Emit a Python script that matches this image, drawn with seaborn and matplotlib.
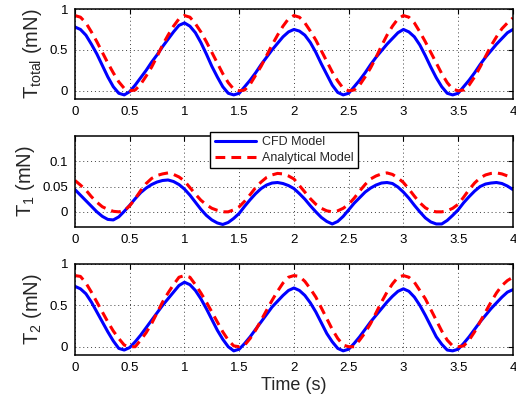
import matplotlib
matplotlib.use("Agg")
import matplotlib.pyplot as plt
from matplotlib.lines import Line2D
import seaborn as sns
import pandas as pd

# ---------------- data ----------------
time_s = [0.0, 0.05, 0.1, 0.15, 0.2, 0.25, 0.3, 0.35, 0.4, 0.45,
          0.5, 0.55, 0.6, 0.65, 0.7, 0.75, 0.8, 0.85, 0.9, 0.95,
          1.0, 1.05, 1.1, 1.15, 1.2, 1.25, 1.3, 1.35, 1.4, 1.45,
          1.5, 1.55, 1.6, 1.65, 1.7, 1.75, 1.8, 1.85, 1.9, 1.95,
          2.0, 2.05, 2.1, 2.15, 2.2, 2.25, 2.3, 2.35, 2.4, 2.45,
          2.5, 2.55, 2.6, 2.65, 2.7, 2.75, 2.8, 2.85, 2.9, 2.95,
          3.0, 3.05, 3.1, 3.15, 3.2, 3.25, 3.3, 3.35, 3.4, 3.45,
          3.5, 3.55, 3.6, 3.65, 3.7, 3.75, 3.8, 3.85, 3.9, 3.95, 4.0]

t_total_cfd = [0.78, 0.75, 0.68, 0.57, 0.45, 0.31, 0.17, 0.05, -0.03, -0.05,
               -0.01, 0.07, 0.16, 0.25, 0.35, 0.44, 0.54, 0.63, 0.72, 0.80,
               0.83, 0.79, 0.71, 0.59, 0.45, 0.30, 0.17, 0.05, -0.03, -0.05,
               -0.03, 0.05, 0.13, 0.22, 0.32, 0.41, 0.50, 0.58, 0.66, 0.72,
               0.75, 0.73, 0.68, 0.59, 0.47, 0.33, 0.20, 0.07, -0.02, -0.05,
               -0.03, 0.05, 0.13, 0.22, 0.32, 0.41, 0.49, 0.57, 0.64, 0.71,
               0.75, 0.72, 0.66, 0.56, 0.43, 0.29, 0.16, 0.05, -0.03, -0.05,
               -0.03, 0.05, 0.13, 0.22, 0.32, 0.41, 0.49, 0.57, 0.64, 0.71, 0.75]

t_total_ana = [0.92, 0.90, 0.83, 0.72, 0.60, 0.47, 0.34, 0.22, 0.11, 0.03,
               0.00, 0.01, 0.08, 0.18, 0.29, 0.42, 0.56, 0.68, 0.79, 0.88,
               0.92, 0.90, 0.82, 0.72, 0.60, 0.47, 0.34, 0.21, 0.10, 0.02,
               0.00, 0.01, 0.08, 0.19, 0.30, 0.43, 0.56, 0.68, 0.79, 0.88,
               0.92, 0.90, 0.83, 0.73, 0.62, 0.49, 0.36, 0.23, 0.12, 0.03,
               0.00, 0.01, 0.07, 0.17, 0.28, 0.41, 0.55, 0.68, 0.79, 0.88,
               0.92, 0.90, 0.83, 0.72, 0.60, 0.47, 0.34, 0.21, 0.10, 0.02,
               0.00, 0.01, 0.07, 0.17, 0.29, 0.42, 0.55, 0.66, 0.76, 0.83, 0.89]

t1_cfd = [0.044, 0.033, 0.022, 0.011, 0.000, -0.009, -0.015, -0.016, -0.010, 0.001,
          0.013, 0.026, 0.038, 0.047, 0.054, 0.059, 0.062, 0.063, 0.060, 0.054,
          0.045, 0.033, 0.019, 0.005, -0.007, -0.016, -0.022, -0.025, -0.021, -0.013,
          -0.003, 0.011, 0.024, 0.036, 0.046, 0.053, 0.057, 0.058, 0.056, 0.052,
          0.046, 0.036, 0.025, 0.012, 0.000, -0.011, -0.019, -0.024, -0.019, -0.009,
          0.004, 0.017, 0.028, 0.039, 0.047, 0.053, 0.057, 0.058, 0.056, 0.049,
          0.039, 0.027, 0.013, 0.000, -0.012, -0.020, -0.024, -0.024, -0.017, -0.007,
          0.004, 0.018, 0.030, 0.041, 0.050, 0.055, 0.057, 0.058, 0.056, 0.051, 0.044]

t1_ana = [0.062, 0.053, 0.043, 0.030, 0.019, 0.010, 0.005, 0.001, 0.000, 0.002,
          0.012, 0.026, 0.042, 0.056, 0.066, 0.072, 0.075, 0.077, 0.074, 0.069,
          0.061, 0.048, 0.035, 0.023, 0.014, 0.007, 0.003, 0.000, 0.000, 0.004,
          0.010, 0.021, 0.034, 0.048, 0.059, 0.068, 0.073, 0.076, 0.075, 0.071,
          0.065, 0.052, 0.039, 0.026, 0.015, 0.007, 0.002, 0.000, 0.002, 0.007,
          0.015, 0.027, 0.041, 0.054, 0.065, 0.071, 0.075, 0.077, 0.074, 0.067,
          0.058, 0.045, 0.031, 0.018, 0.008, 0.002, 0.000, 0.000, 0.002, 0.007,
          0.015, 0.029, 0.044, 0.057, 0.067, 0.073, 0.076, 0.077, 0.075, 0.071, 0.066]

t2_cfd = [0.73, 0.70, 0.64, 0.54, 0.42, 0.30, 0.18, 0.07, -0.02, -0.04,
          -0.01, 0.06, 0.14, 0.23, 0.32, 0.41, 0.50, 0.58, 0.66, 0.74,
          0.78, 0.75, 0.68, 0.58, 0.46, 0.33, 0.20, 0.09, 0.00, -0.05,
          -0.03, 0.04, 0.12, 0.21, 0.30, 0.39, 0.48, 0.55, 0.62, 0.68,
          0.71, 0.68, 0.62, 0.53, 0.42, 0.29, 0.16, 0.06, -0.02, -0.05,
          -0.03, 0.04, 0.12, 0.21, 0.30, 0.38, 0.46, 0.54, 0.61, 0.67,
          0.70, 0.67, 0.60, 0.50, 0.38, 0.25, 0.12, 0.03, -0.04, -0.05,
          -0.03, 0.04, 0.12, 0.21, 0.30, 0.38, 0.46, 0.53, 0.60, 0.66, 0.69]

t2_ana = [0.86, 0.85, 0.77, 0.66, 0.54, 0.42, 0.30, 0.19, 0.10, 0.02,
          0.00, 0.00, 0.08, 0.17, 0.28, 0.41, 0.54, 0.65, 0.75, 0.84,
          0.86, 0.84, 0.75, 0.65, 0.54, 0.42, 0.30, 0.18, 0.08, 0.01,
          0.00, 0.02, 0.10, 0.20, 0.32, 0.44, 0.56, 0.67, 0.77, 0.84,
          0.86, 0.85, 0.79, 0.70, 0.60, 0.47, 0.34, 0.21, 0.10, 0.02,
          0.00, 0.00, 0.08, 0.17, 0.28, 0.41, 0.54, 0.66, 0.76, 0.84,
          0.86, 0.84, 0.78, 0.68, 0.58, 0.45, 0.32, 0.19, 0.08, 0.01,
          0.00, 0.01, 0.08, 0.18, 0.30, 0.42, 0.54, 0.65, 0.74, 0.80, 0.84]

x_ticks = [0, 0.5, 1, 1.5, 2, 2.5, 3, 3.5, 4]
x_ticklabels = ["0", "0.5", "1", "1.5", "2", "2.5", "3", "3.5", "4"]
y_ticks_top = [0, 0.5, 1]
y_ticklabels_top = ["0", "0.5", "1"]
y_ticks_mid = [0, 0.05, 0.1]
y_ticklabels_mid = ["0", "0.05", "0.1"]
y_ticks_bot = [0, 0.5, 1]
y_ticklabels_bot = ["0", "0.5", "1"]

ylabels = [r"T$_{\mathrm{total}}$ (mN)", r"T$_{\mathrm{1}}$ (mN)", r"T$_{\mathrm{2}}$ (mN)"]
series_names = ["CFD Model", "Analytical Model"]
xlabel = "Time (s)"

# ---------------- style ----------------
sns.set_theme(style="white")
plt.rcParams["font.family"] = ["Liberation Sans", "DejaVu Sans"]
plt.rcParams["mathtext.fontset"] = "custom"
plt.rcParams["mathtext.rm"] = "Liberation Sans"
plt.rcParams["mathtext.it"] = "Liberation Sans:italic"
plt.rcParams["mathtext.bf"] = "Liberation Sans:bold"

fig = plt.figure(figsize=(5.16, 4.0), dpi=100)
left, right = 0.1453, 0.994
positions = [(0.7525, 0.9775), (0.4325, 0.66), (0.1125, 0.34)]
ylims = [(-0.1, 1.0), (-0.03, 0.15), (-0.1, 1.0)]
yticks = [y_ticks_top, y_ticks_mid, y_ticks_bot]
yticklabels = [y_ticklabels_top, y_ticklabels_mid, y_ticklabels_bot]
data = [(t_total_cfd, t_total_ana), (t1_cfd, t1_ana), (t2_cfd, t2_ana)]

blue = "#0000ff"
red = "#ff0000"
lw = 2.2
dash = (0, (3.2, 2.0))

axes = []
for i, (b, tp) in enumerate(positions):
    ax = fig.add_axes([left, b, right - left, tp - b])
    vc, va = data[i]
    df = pd.DataFrame({"t": time_s, "cfd": vc, "ana": va})
    sns.lineplot(data=df, x="t", y="cfd", ax=ax, color=blue, linewidth=lw,
                 legend=False, estimator=None)
    sns.lineplot(data=df, x="t", y="ana", ax=ax, color=red, linewidth=lw,
                 legend=False, estimator=None)
    ax.lines[-1].set_linestyle(dash)
    for ln in ax.lines:
        ln.set_solid_joinstyle("round")
        ln.set_dash_joinstyle("round")
    ax.set_xlim(0, 4)
    ax.set_ylim(*ylims[i])
    ax.set_xticks(x_ticks)
    ax.set_xticklabels(x_ticklabels)
    ax.set_yticks(yticks[i])
    ax.set_yticklabels(yticklabels[i])
    ax.grid(True, color="0.25", linestyle=(0, (1, 3)), linewidth=0.7)
    ax.tick_params(direction="in", length=3.5, width=0.8, top=True, right=True,
                   labelsize=9.5, pad=5, colors="black")
    for s in ax.spines.values():
        s.set_color("black")
        s.set_linewidth(1.1)
    ax.set_ylabel(ylabels[i], fontsize=14.5, labelpad=4)
    ax.set_xlabel("")
    axes.append(ax)

axes[-1].set_xlabel(xlabel, fontsize=13, labelpad=2)

handles = [Line2D([], [], color=blue, linewidth=lw),
           Line2D([], [], color=red, linewidth=lw, linestyle=dash)]
leg = fig.legend(handles, series_names, loc="center", bbox_to_anchor=(0.551, 0.625),
                 fontsize=9, frameon=True, fancybox=False, framealpha=1,
                 edgecolor="black", handlelength=3.3, handletextpad=0.5,
                 borderpad=0.35, labelspacing=0.3, borderaxespad=0)
leg.get_frame().set_linewidth(1.0)

fig.savefig("out.png", dpi=100)
